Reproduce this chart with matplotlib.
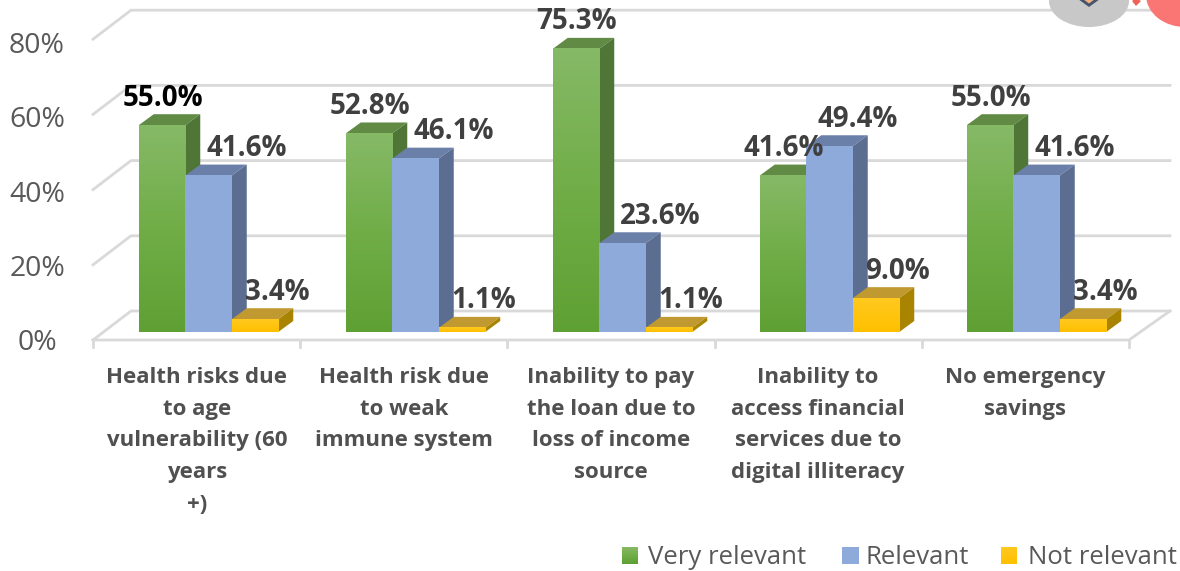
import numpy as np
import matplotlib
matplotlib.use("Agg")
import matplotlib.pyplot as plt
from matplotlib.colors import LinearSegmentedColormap
from matplotlib.patches import Polygon, Ellipse

categories = [
    "Health risks due\nto age\nvulnerability (60\nyears\n+)",
    "Health risk due\nto weak\nimmune system",
    "Inability to pay\nthe loan due to\nloss of income\nsource",
    "Inability to\naccess financial\nservices due to\ndigital illiteracy",
    "No emergency\nsavings",
]
very_relevant = [55.0, 52.8, 75.3, 41.6, 55.0]
relevant = [41.6, 46.1, 23.6, 49.4, 41.6]
not_relevant = [3.4, 1.1, 1.1, 9.0, 3.4]
series_names = ["Very relevant", "Relevant", "Not relevant"]
y_ticks = [0, 20, 40, 60, 80]

plt.rcParams['font.family'] = ['Open Sans', 'DejaVu Sans']

# layout of the picture, in pixels
W, H = 1180, 571
BASE_PY = 332      # bottom of the bars
PX_PER_PCT = 3.76
CAT_STEP = 207
FIRST_PX = 208.5   # middle of first group
BAR_W = 46.5 / CAT_STEP
PX = 1 / CAT_STEP
PY = 1 / PX_PER_PCT

TEXT_GRAY = '#595959'
LABEL_GRAY = '#404040'
GRID = '#d9d9d9'


def to_x(px):
    return (px - FIRST_PX) / CAT_STEP


def to_y(py):
    return (BASE_PY - py) / PX_PER_PCT


def draw_bar(ax, x0, value, cmap, top_col, side_col, z):
    # x0 is the left edge of the front face
    dx, dy = 15 * PX, 11 * PY
    x1 = x0 + BAR_W
    ax.add_patch(Polygon([(x0, value), (x1, value), (x1 + dx, value + dy), (x0 + dx, value + dy)],
                         facecolor=top_col, edgecolor='none', zorder=z))
    ax.add_patch(Polygon([(x1, 0), (x1 + dx, dy), (x1 + dx, value + dy), (x1, value)],
                         facecolor=side_col, edgecolor='none', zorder=z))
    grad = np.linspace(0, 1, 64).reshape(-1, 1)
    ax.imshow(grad, extent=(x0, x1, 0, value), cmap=cmap, vmin=0, vmax=1,
              origin='upper', aspect='auto', zorder=z + 0.1)


green = LinearSegmentedColormap.from_list('g', ['#86b966', '#70ad47', '#5fa034'])
blue = LinearSegmentedColormap.from_list('b', ['#8eaadb', '#8eaadb'])
yellow = LinearSegmentedColormap.from_list('y', ['#ffc91f', '#ffc000'])
styles = [
    (very_relevant, green, '#618a44', '#4f7636'),
    (relevant, blue, '#6a80a8', '#5b6e91'),
    (not_relevant, yellow, '#c09a30', '#a98400'),
]

fig = plt.figure(figsize=(W / 100, H / 100), dpi=100)
ax = fig.add_axes([0, 0, 1, 1])
ax.axis('off')

# walls and floor
left_px, right_px = 93, 1129
depth_x, depth_y = 38, 29
front_py = 340
for t in y_ticks:
    py = front_py - t * PX_PER_PCT
    ax.plot([to_x(left_px), to_x(left_px + depth_x), to_x(right_px + depth_x + 3)],
            [to_y(py), to_y(py - depth_y), to_y(py - depth_y)], color=GRID, lw=2, zorder=1)
    ax.text(to_x(37), to_y(front_py + 3 - t * 3.71), f"{t}%", ha='center', va='center',
            fontsize=20.4, color=TEXT_GRAY)
ax.plot([to_x(left_px), to_x(right_px), to_x(right_px + depth_x + 3)],
        [to_y(front_py), to_y(front_py), to_y(front_py - depth_y)], color=GRID, lw=2, zorder=1)
for i in range(len(categories) + 1):
    tick = to_x(left_px) + i * (right_px - left_px) / 5 * PX
    ax.plot([tick, tick], [to_y(front_py), to_y(front_py + 7)], color=GRID, lw=2, zorder=1)

# bars, drawn back to front so each side face sits under the next bar
label_dx = [1, 38, 22]
for s, (vals, cmap, top_col, side_col) in enumerate(styles):
    for c, v in enumerate(vals):
        x0 = c + (s - 1) * BAR_W - BAR_W / 2
        draw_bar(ax, x0, v, cmap, top_col, side_col, 2 + c + s * 0.2)
        dx = label_dx[s]
        if s == 1 and c == 3:
            dx = 28
        col = 'black' if (s == 0 and c == 0) else LABEL_GRAY
        ax.text(x0 + BAR_W / 2 + dx * PX, v + 27 * PY, f"{v:.1f}%", ha='center', va='center',
                fontsize=20, fontweight='bold', color=col, zorder=20)

# category labels
for c, name in enumerate(categories):
    ax.text(to_x(197 + c * 207), to_y(367), name, ha='center', va='top', fontsize=16,
            fontweight='bold', color='#505050', linespacing=1.67)

# legend
legend_x = [622, 842, 1001]
text_x = [648, 866, 1028]
for s, name in enumerate(series_names):
    grad = np.linspace(0, 1, 32).reshape(-1, 1)
    ax.imshow(grad, extent=(to_x(legend_x[s]), to_x(legend_x[s] + 16), to_y(564), to_y(547)),
              cmap=styles[s][1], vmin=0, vmax=1, origin='upper', aspect='auto', zorder=5)
    ax.text(to_x(text_x[s]), to_y(557), name, ha='left', va='center', fontsize=18.5, color=TEXT_GRAY)

# bit of an icon cut off at the top right
ax.add_patch(Ellipse((to_x(1089), to_y(1)), 80 * PX, 52 * PY, facecolor='#c8c8c8', edgecolor='none', zorder=6))
ax.add_patch(Polygon([(to_x(1078), to_y(-1)), (to_x(1100), to_y(-1)), (to_x(1089), to_y(7))],
                     facecolor='#44546a', edgecolor='none', zorder=7))
ax.add_patch(Polygon([(to_x(1083), to_y(-1)), (to_x(1095), to_y(-1)), (to_x(1089), to_y(3.5))],
                     facecolor='#f4b183', edgecolor='none', zorder=8))
ax.add_patch(Polygon([(to_x(1132), to_y(1)), (to_x(1136), to_y(-2)), (to_x(1141), to_y(1)), (to_x(1136), to_y(6))],
                     facecolor='#f0605a', edgecolor='none', zorder=7))
ax.add_patch(Ellipse((to_x(1185), to_y(-5)), 78 * PX, 64 * PY, facecolor='#f97674', edgecolor='none', zorder=7))

ax.set_xlim(to_x(0), to_x(W))
ax.set_ylim(to_y(H), to_y(0))

fig.savefig("out.png", dpi=100)
